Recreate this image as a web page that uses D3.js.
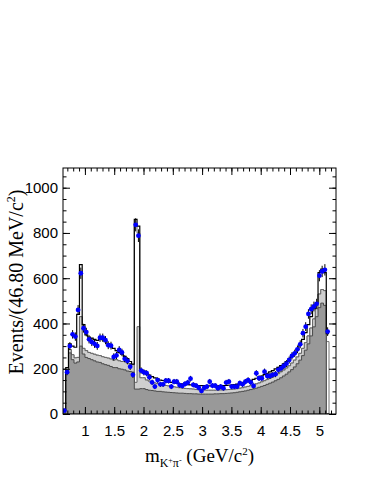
<!DOCTYPE html>
<meta charset="utf-8">
<style>
body { margin: 0; background: #ffffff; }
svg { display: block; font-family: "Liberation Serif", "Times New Roman", serif; }
.tick text { font-size: 15px; fill: #000; }
.tick line { stroke: #000; }
.dark { fill: #999999; stroke: #4a4a4a; stroke-width: 1px; }
.light { fill: #cfcfcf; stroke: #666666; stroke-width: 1px; }
.peak { fill: #ffffff; stroke: #777777; stroke-width: 1px; }
.fit { fill: none; stroke: #000000; stroke-width: 1.2px; }
.err { stroke: #000000; stroke-width: 1px; }
.pt { fill: #0000ff; }
</style>
<svg width="382" height="494"></svg>
<script src="https://d3js.org/d3.v7.min.js"></script>
<script>

// binning of m(K+ pi-) in GeV/c^2
const massLow = 0.626, massHigh = 5.285, binWidth = 0.0468;

// data counts per bin
const dataCounts = [15,185,300,352,342,460,622,379,362,330,
  318,310,301,337,337,326,304,302,252,259,
  283,272,244,235,209,173,836,788,192,184,
  180,162,140,121,150,131,131,147,147,121,
  143,143,128,124,133,139,156,129,125,116,
  102,116,121,143,125,125,114,121,114,139,
  143,121,121,121,136,131,143,150,140,124,
  180,158,158,187,168,168,173,176,195,202,
  212,223,239,257,268,286,308,357,386,442,
  463,475,487,611,630,637,364];

// total fit (black line)
const fitTotal = [20,205,310,300,295,440,660,395,350,340,
  335,330,325,330,328,320,310,300,290,280,
  272,265,255,245,232,220,860,830,195,190,
  180,172,165,160,155,150,148,145,142,140,
  138,136,134,132,131,130,129,128,127,126,
  125,125,124,124,124,124,124,125,125,126,
  127,128,130,132,134,137,140,144,148,153,
  158,163,168,174,180,186,192,199,206,214,
  222,232,243,256,270,287,306,330,360,395,
  430,465,490,625,640,625,355];

// top of the dark grey component
const stackDark = [0,180,270,240,225,230,300,265,250,245,
  240,235,230,228,222,218,215,210,205,205,
  200,198,195,190,188,185,110,110,112,112,
  108,105,104,102,100,100,98,97,96,95,
  94,93,92,92,91,90,90,89,89,88,
  88,88,88,88,88,89,89,90,90,91,
  92,93,94,96,98,100,102,105,108,111,
  114,118,122,126,131,136,141,147,153,160,
  168,176,186,196,208,222,238,258,282,310,
  345,385,430,470,490,480,0];

// top of the light grey component (stacked)
const stackLight = [0,190,285,262,248,250,430,290,280,272,
  268,264,260,258,253,250,247,243,238,240,
  235,232,232,225,222,218,140,386,160,160,
  150,145,140,137,135,132,128,126,124,122,
  120,118,116,115,113,112,111,110,108,107,
  106,106,105,105,105,105,105,106,106,107,
  108,109,110,112,114,116,119,122,125,129,
  133,137,142,147,152,158,164,171,178,186,
  194,203,213,225,238,252,268,290,315,345,
  380,420,465,530,550,545,0];

// bins where the white (peaking) component sticks out
const peakBins = [26, 27, 96];
const peakTops = [830, 800, 320];

const xMajor = [1, 1.5, 2, 2.5, 3, 3.5, 4, 4.5, 5];
const yMajor = [0, 200, 400, 600, 800, 1000];

const frame = {left: 63, right: 336, top: 168, bottom: 414};
const yMax = 1087;

const svg = d3.select("svg");

const x = d3.scaleLinear().domain([massLow, massHigh]).range([frame.left, frame.right]);
const y = d3.scaleLinear().domain([0, yMax]).range([frame.bottom, frame.top]);

svg.append("clipPath").attr("id", "clip")
  .append("rect")
  .attr("x", frame.left).attr("y", frame.top)
  .attr("width", frame.right - frame.left).attr("height", frame.bottom - frame.top);

var peakOutline = stackLight.slice();
peakBins.forEach(function(b, i) { peakOutline[b] = peakTops[i]; });

// turn a per-bin array into step points
function steps(values) {
  var pts = [];
  values.forEach(function(v, i) {
    var lo = massLow + i * binWidth;
    pts.push([lo, v], [lo + binWidth, v]);
  });
  return pts;
}

var area = d3.area()
  .x(function(d) { return x(d[0]); })
  .y0(y(0))
  .y1(function(d) { return y(d[1]); });

var line = d3.line()
  .x(function(d) { return x(d[0]); })
  .y(function(d) { return y(d[1]); });

var plot = svg.append("g").attr("clip-path", "url(#clip)");

plot.append("path").attr("class", "peak").attr("d", area(steps(peakOutline)));
plot.append("path").attr("class", "light").attr("d", area(steps(stackLight)));
plot.append("path").attr("class", "dark").attr("d", area(steps(stackDark)));
plot.append("path").attr("class", "fit").attr("d", line(steps(fitTotal)));

var points = dataCounts.map(function(n, i) {
  return {m: massLow + (i + 0.5) * binWidth, n: n, e: Math.sqrt(n)};
});

plot.selectAll(".err").data(points).enter().append("line")
  .attr("class", "err")
  .attr("x1", function(d) { return x(d.m); })
  .attr("x2", function(d) { return x(d.m); })
  .attr("y1", function(d) { return y(d.n - d.e); })
  .attr("y2", function(d) { return y(d.n + d.e); });

plot.selectAll(".pt").data(points).enter().append("circle")
  .attr("class", "pt")
  .attr("cx", function(d) { return x(d.m); })
  .attr("cy", function(d) { return y(d.n); })
  .attr("r", 2.4);

// axes, ROOT style: ticks inside on all four sides
var xMinor = d3.range(7, 53).map(function(k) { return k / 10; });
var yMinor = d3.range(0, 1051, 50);

function addAxis(axis, tx, ty) {
  var g = svg.append("g").attr("transform", "translate(" + tx + "," + ty + ")").call(axis);
  g.select(".domain").remove();
  return g;
}

addAxis(d3.axisBottom(x).tickValues(xMinor).tickSize(-3.5).tickFormat(""), 0, frame.bottom);
addAxis(d3.axisBottom(x).tickValues(xMajor).tickSize(-7).tickPadding(11).tickFormat(d3.format("")), 0, frame.bottom);
addAxis(d3.axisTop(x).tickValues(xMinor).tickSize(-3.5).tickFormat(""), 0, frame.top);
addAxis(d3.axisTop(x).tickValues(xMajor).tickSize(-7).tickFormat(""), 0, frame.top);

addAxis(d3.axisLeft(y).tickValues(yMinor).tickSize(-3.5).tickFormat(""), frame.left, 0);
addAxis(d3.axisLeft(y).tickValues(yMajor).tickSize(-7).tickPadding(5).tickFormat(d3.format("")), frame.left, 0);
addAxis(d3.axisRight(y).tickValues(yMinor).tickSize(-3.5).tickFormat(""), frame.right, 0);
addAxis(d3.axisRight(y).tickValues(yMajor).tickSize(-7).tickFormat(""), frame.right, 0);

svg.selectAll(".tick text").attr("font-family", null);

svg.append("rect")
  .attr("x", frame.left).attr("y", frame.top)
  .attr("width", frame.right - frame.left).attr("height", frame.bottom - frame.top)
  .attr("fill", "none").attr("stroke", "#000").attr("stroke-width", 1);

// axis titles
var xt = svg.append("text")
  .attr("x", (frame.left + frame.right) / 2).attr("y", 462)
  .attr("text-anchor", "middle").attr("font-size", 19);
xt.append("tspan").text("m");
xt.append("tspan").attr("font-size", 12).attr("dy", 5).text("K");
xt.append("tspan").attr("font-size", 8).attr("dy", -4).text("+");
xt.append("tspan").attr("font-size", 12).attr("dy", 4).text("π");
xt.append("tspan").attr("font-size", 8).attr("dy", -4).text("-");
xt.append("tspan").attr("dy", -1).text(" (GeV/c");
xt.append("tspan").attr("font-size", 11).attr("dy", -7).text("2");
xt.append("tspan").attr("dy", 7).text(")");

var yt = svg.append("text")
  .attr("transform", "translate(23,282) rotate(-90)")
  .attr("text-anchor", "middle").attr("font-size", 20);
yt.append("tspan").text("Events/(46.80 MeV/c");
yt.append("tspan").attr("font-size", 12).attr("dy", -8).text("2");
yt.append("tspan").attr("dy", 8).text(")");

</script>
